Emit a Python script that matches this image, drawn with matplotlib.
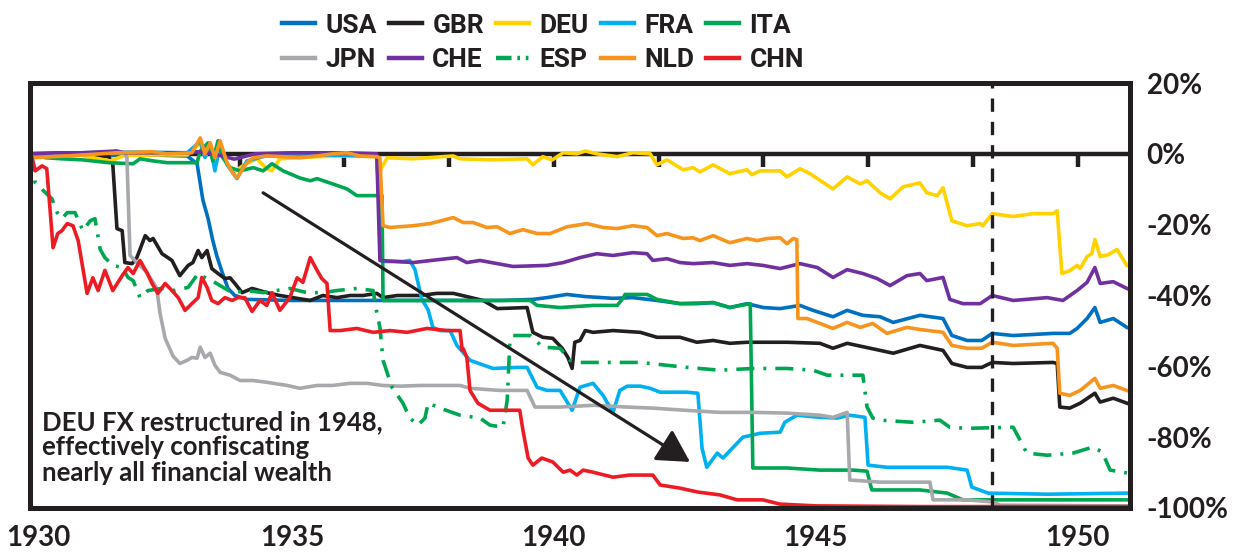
import matplotlib
matplotlib.use('Agg')
import matplotlib.pyplot as plt
from matplotlib.transforms import ScaledTranslation

# series: (year, % change)
usa_x = [1930.0, 1930.5, 1931.0, 1931.5, 1932.0, 1932.5, 1933.0, 1933.19, 1933.30, 1933.40, 1933.49, 1933.57,
         1933.67, 1933.78, 1933.91, 1934.14, 1935.0, 1936.0, 1937.0, 1938.0, 1939.0, 1939.60, 1939.87, 1940.25,
         1940.60, 1941.13, 1941.51, 1941.97, 1942.41, 1942.73, 1943.04, 1943.36, 1943.69, 1944.0, 1944.32,
         1944.70, 1944.95, 1945.33, 1945.60, 1945.90, 1946.23, 1946.48, 1946.99, 1947.43, 1947.60, 1947.89,
         1948.17, 1948.37, 1948.77, 1949.53, 1949.85, 1949.99, 1950.18, 1950.33, 1950.43, 1950.68, 1950.94]
usa_y = [0, -0.3, -0.2, -0.5, -0.3, -0.4, -0.6, -2.8, -13.0, -18.3, -24.5, -29.0,
         -33.5, -38.0, -40.0, -41.1, -41.4, -41.4, -41.4, -41.4, -41.4, -41.1, -40.6, -39.7,
         -40.3, -40.8, -40.6, -41.4, -42.3, -42.3, -42.0, -43.4, -42.3, -43.4, -43.7,
         -42.8, -44.2, -46.0, -44.2, -45.6, -46.0, -47.6, -45.6, -46.5, -51.3, -52.7,
         -52.7, -50.7, -51.3, -50.7, -50.7, -49.3, -46.5, -43.4, -47.6, -46.5, -49.0]

gbr_x = [1930.0, 1930.5, 1931.0, 1931.5, 1931.58, 1931.66, 1931.76, 1931.81, 1931.95, 1932.04, 1932.20, 1932.29,
         1932.35, 1932.52, 1932.71, 1932.86, 1933.02, 1933.11, 1933.21, 1933.28, 1933.38, 1933.47, 1933.59,
         1933.72, 1933.82, 1933.91, 1934.05, 1934.24, 1934.52, 1934.77, 1935.10, 1935.35, 1935.59, 1935.86,
         1936.11, 1936.36, 1936.62, 1936.74, 1937.01, 1937.45, 1937.77, 1938.08, 1938.65, 1938.92, 1939.49,
         1939.60, 1939.79, 1939.98, 1940.16, 1940.27, 1940.35, 1940.40, 1940.50, 1940.60, 1940.75, 1941.13,
         1941.65, 1941.97, 1942.41, 1942.73, 1943.04, 1943.36, 1943.69, 1944.07, 1944.45, 1945.08, 1945.33,
         1945.60, 1946.23, 1946.48, 1946.99, 1947.43, 1947.60, 1947.89, 1948.17, 1948.37, 1948.77, 1949.53,
         1949.61, 1949.66, 1949.85, 1950.05, 1950.33, 1950.43, 1950.68, 1950.94]
gbr_y = [0, -0.3, -0.3, -0.8, -2.8, -21.1, -21.7, -30.7, -31.0, -29.3, -23.1, -24.5,
         -23.9, -28.2, -30.1, -34.4, -31.5, -30.7, -27.3, -29.3, -27.3, -32.4, -33.8,
         -35.2, -35.0, -36.6, -39.2, -38.0, -39.2, -40.0, -40.8, -41.4, -40.0, -40.6,
         -40.0, -40.0, -39.4, -40.6, -40.0, -40.0, -39.4, -39.4, -41.4, -43.7, -43.4,
         -50.4, -51.8, -52.1, -54.9, -57.5, -60.6, -53.2, -52.7, -49.9, -50.4, -49.9,
         -50.4, -51.8, -51.8, -53.2, -52.7, -53.5, -53.2, -53.2, -53.2, -53.5, -54.9,
         -53.5, -55.5, -56.3, -54.1, -55.5, -59.2, -60.3, -60.3, -58.9, -59.2, -58.9,
         -59.2, -71.5, -71.8, -70.4, -67.6, -70.1, -69.0, -70.4]

deu_x = [1930.0, 1930.5, 1931.0, 1931.53, 1931.8, 1932.5, 1933.0, 1933.25, 1933.34, 1933.44, 1933.53, 1933.63,
         1933.76, 1933.91, 1934.10, 1934.33, 1934.52, 1934.62, 1934.77, 1935.10, 1935.5, 1936.0, 1936.62,
         1936.68, 1936.82, 1937.31, 1937.88, 1938.08, 1938.21, 1938.78, 1939.49, 1939.60, 1939.79, 1939.97,
         1940.18, 1940.44, 1940.60, 1940.82, 1941.21, 1941.51, 1941.84, 1941.97, 1942.16, 1942.47, 1942.66,
         1942.79, 1943.04, 1943.36, 1943.69, 1943.78, 1943.94, 1944.32, 1944.45, 1944.70, 1944.89, 1945.33,
         1945.60, 1945.85, 1945.98, 1946.23, 1946.42, 1946.67, 1946.99, 1947.12, 1947.32, 1947.43, 1947.60,
         1947.89, 1948.14, 1948.19, 1948.37, 1948.77, 1949.15, 1949.53, 1949.61, 1949.70, 1949.85, 1949.99,
         1950.05, 1950.18, 1950.27, 1950.33, 1950.43, 1950.58, 1950.75, 1950.94]
deu_y = [0, -0.3, -0.5, -2.0, -0.5, -0.3, -0.3, 3.0, -1.0, 2.5, -1.0, 2.0,
         -3.0, -5.0, -3.0, -1.4, -4.2, -4.8, -1.4, -1.1, -0.8, -0.6, -0.8,
         -4.8, -1.1, -1.4, -0.8, -0.6, -1.4, -1.7, -1.4, -3.1, -0.8, -1.7,
         0.3, 0.0, 0.8, 0.0, -0.8, 0.3, 0.0, -3.1, -1.7, -4.5, -3.9,
         -5.1, -3.1, -5.6, -4.5, -5.9, -4.8, -4.8, -6.5, -4.2, -5.6, -9.9,
         -6.5, -8.5, -7.6, -11.0, -12.7, -9.3, -8.2, -11.0, -11.8, -9.6, -18.9,
         -20.3, -19.7, -20.3, -16.9, -17.7, -16.9, -16.9, -16.1, -33.8, -33.0, -31.5,
         -32.4, -29.0, -28.2, -24.2, -29.0, -28.5, -27.0, -31.5]

fra_x = [1930.0, 1931.0, 1932.0, 1933.0, 1933.25, 1933.34, 1933.44, 1933.53, 1933.63, 1933.76, 1933.95, 1934.14,
         1934.5, 1935.5, 1936.62, 1936.72, 1937.12, 1937.25, 1937.35, 1937.48, 1937.60, 1937.69, 1937.83,
         1938.02, 1938.15, 1938.40, 1938.84, 1939.30, 1939.49, 1939.68, 1939.87, 1940.12, 1940.35, 1940.50,
         1940.75, 1940.94, 1941.07, 1941.13, 1941.26, 1941.40, 1941.65, 1941.84, 1942.03, 1942.54, 1942.75,
         1942.83, 1942.92, 1943.12, 1943.23, 1943.50, 1943.61, 1943.94, 1944.32, 1944.41, 1944.64, 1945.08,
         1945.41, 1945.65, 1945.94, 1946.00, 1946.36, 1946.99, 1947.51, 1947.89, 1947.98, 1948.29, 1949.42,
         1950.94]
fra_y = [0, 0.3, 0.5, 0.3, 3.5, -1.0, 2.5, -4.8, 2.5, -3.0, -7.0, -2.0,
         -0.6, -0.3, -0.6, -30.4, -30.4, -30.1, -32.7, -41.1, -44.0, -49.0, -49.9,
         -49.9, -54.1, -58.3, -60.6, -60.3, -60.3, -65.9, -66.8, -66.8, -72.4, -65.9,
         -64.8, -68.2, -71.5, -73.0, -66.8, -65.6, -65.6, -66.2, -67.3, -67.3, -67.6,
         -83.1, -88.5, -84.5, -85.9, -81.7, -80.0, -78.9, -78.6, -75.8, -73.8, -74.4,
         -74.6, -73.8, -74.4, -87.9, -88.5, -88.5, -88.5, -89.3, -94.1, -95.8, -96.1,
         -95.8]

ita_x = [1930.0, 1930.3, 1930.6, 1931.0, 1931.5, 1931.97, 1932.10, 1932.35, 1932.62, 1933.0, 1933.19, 1933.25,
         1933.40, 1933.49, 1933.59, 1933.68, 1933.82, 1934.01, 1934.26, 1934.45, 1934.62, 1934.83, 1935.15,
         1935.35, 1935.48, 1935.78, 1936.05, 1936.24, 1936.43, 1936.72, 1936.74, 1937.5, 1938.5, 1939.55,
         1939.68, 1940.12, 1940.75, 1941.21, 1941.32, 1941.36, 1941.78, 1941.97, 1942.41, 1943.04, 1943.36,
         1943.75, 1943.80, 1944.45, 1945.08, 1945.71, 1945.98, 1946.07, 1946.99, 1947.51, 1947.81, 1948.5,
         1950.94]
ita_y = [0, -1.1, -1.4, -1.7, -2.5, -2.8, -1.4, -2.0, -2.5, -2.5, -2.5, 0.8,
         3.1, -2.0, 3.7, -1.1, -3.9, -4.8, -3.9, -4.8, -2.8, -4.8, -6.8,
         -7.6, -7.0, -8.5, -9.9, -11.8, -11.8, -11.8, -41.4, -41.4, -41.4, -41.4,
         -42.8, -43.4, -42.8, -42.8, -40.8, -39.7, -39.7, -41.1, -42.3, -42.0, -43.4,
         -42.3, -88.7, -88.7, -89.3, -89.3, -89.6, -94.9, -94.9, -95.8, -97.7, -97.7,
         -97.7]

jpn_x = [1930.0, 1931.0, 1931.80, 1931.85, 1931.91, 1932.04, 1932.14, 1932.23, 1932.33, 1932.42, 1932.48, 1932.58,
         1932.73, 1932.86, 1933.00, 1933.09, 1933.19, 1933.25, 1933.34, 1933.44, 1933.53, 1933.63, 1933.82,
         1934.01, 1934.26, 1934.52, 1934.91, 1935.15, 1935.48, 1935.78, 1936.11, 1936.43, 1936.74, 1937.07,
         1937.45, 1937.96, 1938.21, 1938.40, 1938.97, 1939.49, 1939.64, 1940.12, 1940.75, 1941.40, 1941.89,
         1942.5, 1943.17, 1943.80, 1944.45, 1945.08, 1945.33, 1945.60, 1945.65, 1946.23, 1947.18, 1947.24,
         1947.89, 1948.38, 1948.52, 1950.94]
jpn_y = [0, 0.3, 0.3, -1.1, -28.7, -30.7, -32.1, -33.5, -35.8, -38.0, -44.8, -52.1,
         -57.1, -59.2, -58.3, -57.5, -57.7, -54.6, -57.5, -56.3, -59.7, -61.7, -62.5,
         -64.0, -64.0, -64.5, -65.4, -66.2, -65.4, -65.4, -64.8, -64.8, -65.4, -65.6,
         -65.4, -65.4, -65.4, -66.2, -66.8, -66.8, -71.5, -71.5, -71.0, -71.5, -71.8,
         -72.4, -73.0, -73.0, -73.2, -73.8, -74.4, -73.0, -92.1, -92.7, -92.7, -97.7,
         -97.7, -98.3, -99.2, -99.4]

che_x = [1930.0, 1930.5, 1931.0, 1931.66, 1931.8, 1932.5, 1933.0, 1933.2, 1933.5, 1933.9, 1934.3, 1935.0,
         1936.0, 1936.62, 1936.68, 1937.31, 1937.96, 1938.15, 1938.34, 1938.59, 1938.92, 1939.22, 1939.87,
         1940.18, 1940.50, 1940.82, 1941.13, 1941.51, 1941.78, 1941.89, 1942.16, 1942.41, 1942.66, 1943.04,
         1943.36, 1943.69, 1943.99, 1944.32, 1944.70, 1945.03, 1945.33, 1945.60, 1945.90, 1946.17, 1946.42,
         1946.74, 1946.99, 1947.12, 1947.43, 1947.56, 1947.81, 1948.14, 1948.37, 1948.77, 1949.42, 1949.72,
         1949.99, 1950.18, 1950.33, 1950.43, 1950.68, 1950.94]
che_y = [0, 0.3, 0.3, 0.8, 0.3, 0.3, 0.3, 0.6, 0.0, -1.5, 0.0, 0.3,
         0.3, 0.0, -30.1, -30.7, -29.6, -29.3, -30.7, -30.1, -31.0, -31.8, -31.5,
         -30.7, -29.3, -28.2, -28.7, -27.9, -28.2, -30.1, -29.6, -30.7, -31.0, -30.7,
         -31.5, -31.0, -31.5, -32.4, -31.0, -32.1, -34.9, -32.7, -33.8, -35.2, -37.2,
         -34.4, -33.8, -35.8, -34.9, -41.1, -42.3, -42.3, -40.0, -41.4, -40.6, -41.4,
         -38.6, -36.3, -32.1, -36.6, -36.1, -38.0]

esp_x = [1930.0, 1930.10, 1930.42, 1930.52, 1930.61, 1930.71, 1930.86, 1931.01, 1931.15, 1931.24, 1931.34, 1931.43,
         1931.58, 1931.76, 1931.87, 1931.97, 1932.10, 1932.25, 1932.52, 1932.77, 1933.02, 1933.21, 1933.34,
         1933.47, 1933.72, 1933.86, 1934.14, 1934.45, 1934.96, 1935.29, 1935.59, 1935.86, 1936.24, 1936.55,
         1936.62, 1936.68, 1936.74, 1936.91, 1937.12, 1937.25, 1937.41, 1937.54, 1937.60, 1937.83, 1938.21,
         1938.59, 1938.78, 1939.03, 1939.11, 1939.16, 1939.22, 1939.55, 1939.79, 1940.12, 1940.31, 1940.50,
         1941.13, 1941.65, 1942.54, 1943.17, 1943.80, 1944.45, 1944.95, 1945.22, 1945.90, 1945.98, 1946.09,
         1946.23, 1946.86, 1947.37, 1947.56, 1947.89, 1948.77, 1948.90, 1949.03, 1949.42, 1949.91, 1950.29,
         1950.47, 1950.62, 1950.94]
esp_y = [0, -8.2, -12.7, -16.6, -18.3, -16.6, -16.6, -21.7, -18.9, -18.3, -27.0, -29.3,
         -31.5, -32.1, -34.9, -35.8, -40.6, -38.6, -38.0, -38.6, -37.7, -33.8, -34.9,
         -35.8, -38.0, -39.2, -38.6, -39.2, -38.0, -39.2, -39.2, -38.6, -38.0, -38.6,
         -44.8, -49.0, -58.3, -65.9, -70.4, -74.6, -76.6, -74.6, -70.4, -71.8, -73.8,
         -74.6, -76.6, -77.2, -69.6, -53.5, -51.3, -51.3, -54.6, -54.9, -58.3, -58.9,
         -58.9, -58.9, -60.3, -61.1, -60.6, -60.6, -61.1, -62.5, -62.5, -71.5, -74.6,
         -75.2, -75.8, -75.2, -77.2, -77.5, -77.2, -80.8, -84.5, -85.1, -84.5, -82.8,
         -84.2, -89.3, -90.1]

nld_x = [1930.0, 1930.05, 1930.7, 1931.66, 1932.33, 1932.62, 1933.09, 1933.25, 1933.34, 1933.44, 1933.53, 1933.63,
         1933.76, 1933.88, 1933.95, 1934.14, 1934.26, 1934.52, 1934.83, 1935.15, 1935.48, 1935.78, 1936.05,
         1936.30, 1936.62, 1936.68, 1936.74, 1936.87, 1937.31, 1937.64, 1938.08, 1938.27, 1938.46, 1938.72,
         1938.92, 1939.16, 1939.41, 1939.68, 1939.93, 1940.25, 1940.63, 1940.94, 1941.21, 1941.51, 1941.78,
         1941.97, 1942.16, 1942.47, 1942.66, 1942.79, 1943.04, 1943.36, 1943.69, 1943.88, 1944.07, 1944.32,
         1944.45, 1944.57, 1944.64, 1944.66, 1944.83, 1945.08, 1945.33, 1945.60, 1945.85, 1946.09, 1946.36,
         1946.74, 1946.99, 1947.43, 1947.60, 1947.89, 1948.17, 1948.37, 1948.77, 1949.53, 1949.61, 1949.66,
         1949.85, 1950.05, 1950.33, 1950.43, 1950.68, 1950.94]
nld_y = [0, -1.1, -0.6, 0.3, 0.6, 0.0, 0.3, 4.5, 0.0, 3.1, -1.1, 3.7,
         -2.5, -5.6, -6.8, -2.5, -1.1, -0.6, -0.8, -1.1, -0.6, 0.0, 0.3,
         -0.6, -0.8, -1.1, -20.3, -20.8, -20.3, -19.7, -18.0, -19.4, -19.4, -20.8,
         -20.6, -22.5, -21.4, -22.5, -22.5, -20.6, -19.7, -20.8, -21.1, -20.3, -20.8,
         -23.1, -22.5, -23.9, -23.7, -24.5, -23.1, -25.1, -23.9, -24.5, -23.9, -23.7,
         -25.4, -23.9, -24.2, -46.5, -46.5, -47.9, -49.3, -47.6, -49.0, -47.9, -50.7,
         -49.0, -49.6, -50.4, -54.1, -54.9, -54.9, -53.2, -54.1, -53.5, -54.9, -67.6,
         -68.2, -66.8, -63.4, -66.2, -65.4, -66.8]

chn_x = [1930.0, 1930.04, 1930.10, 1930.23, 1930.32, 1930.38, 1930.44, 1930.53, 1930.61, 1930.71, 1930.82, 1930.92,
         1931.09, 1931.20, 1931.30, 1931.43, 1931.58, 1931.76, 1931.87, 1931.97, 1932.10, 1932.23, 1932.33,
         1932.44, 1932.58, 1932.71, 1932.83, 1932.96, 1933.09, 1933.21, 1933.28, 1933.38, 1933.47, 1933.59,
         1933.72, 1933.86, 1933.97, 1934.10, 1934.24, 1934.39, 1934.52, 1934.62, 1934.77, 1934.96, 1935.10,
         1935.21, 1935.35, 1935.48, 1935.57, 1935.67, 1935.73, 1935.92, 1936.24, 1936.55, 1936.87, 1937.20,
         1937.58, 1937.96, 1938.21, 1938.25, 1938.27, 1938.34, 1938.40, 1938.55, 1938.78, 1939.11, 1939.35,
         1939.41, 1939.51, 1939.60, 1939.77, 1939.98, 1940.18, 1940.31, 1940.44, 1940.56, 1940.75, 1941.13,
         1941.45, 1941.89, 1942.03, 1942.41, 1942.75, 1943.17, 1943.50, 1943.99, 1944.32, 1945.0, 1947.0,
         1950.94]
chn_y = [0, -1.1, -4.8, -3.4, -4.2, -15.2, -26.5, -22.5, -21.7, -19.7, -20.3, -24.5,
         -39.4, -35.0, -38.6, -32.9, -38.6, -34.4, -32.1, -33.8, -30.1, -33.5, -36.6,
         -39.4, -36.6, -38.6, -40.6, -44.2, -42.3, -40.6, -34.9, -37.7, -41.4, -42.3,
         -40.6, -41.4, -40.6, -40.6, -44.5, -41.4, -42.8, -39.2, -44.2, -40.6, -35.0,
         -36.3, -29.3, -32.9, -35.2, -36.6, -49.9, -49.9, -49.3, -50.4, -49.9, -50.4,
         -49.3, -49.9, -49.9, -55.5, -55.0, -57.5, -66.8, -70.4, -72.4, -72.4, -72.4,
         -78.0, -85.9, -87.9, -85.9, -87.0, -89.9, -89.3, -90.7, -89.3, -89.9, -91.3,
         -90.7, -90.7, -93.5, -94.4, -95.5, -96.3, -97.7, -97.7, -98.9, -99.4, -99.6,
         -99.6]

series = [
    ('USA', usa_x, usa_y, '#0070C0', '-'),
    ('GBR', gbr_x, gbr_y, '#231F20', '-'),
    ('DEU', deu_x, deu_y, '#FFD200', '-'),
    ('FRA', fra_x, fra_y, '#00B0F0', '-'),
    ('ITA', ita_x, ita_y, '#00A651', '-'),
    ('JPN', jpn_x, jpn_y, '#A7A9AC', '-'),
    ('CHE', che_x, che_y, '#7030A0', '-'),
    ('ESP', esp_x, esp_y, '#00A651', (0, (5, 2.5, 0.8, 2.5))),
    ('NLD', nld_x, nld_y, '#F7941D', '-'),
    ('CHN', chn_x, chn_y, '#ED1C24', '-'),
]

x_ticks = [1930, 1935, 1940, 1945, 1950]
y_ticks = [20, 0, -20, -40, -60, -80, -100]
y_labels = ['20%', '0%', '-20%', '-40%', '-60%', '-80%', '-100%']
reform_year = 1948.37
note = 'DEU FX restructured in 1948,\neffectively confiscating\nnearly all financial wealth'

plt.rcParams['font.family'] = ['Lato', 'DejaVu Sans']
ink = '#231F20'

fig = plt.figure(figsize=(12.36, 5.52), dpi=100)
ax = fig.add_axes([30/1236, 1 - 508/552, 1100/1236, 425/552])

handles = []
for i, (name, xs, ys, col, ls) in enumerate(series):
    line, = ax.plot(xs, ys, color=col, lw=2.6, ls=ls, label=name, zorder=3 + i * 0.1,
                    solid_joinstyle='round')
    handles.append(line)

# zero line with its little tick marks
ax.axhline(0, color=ink, lw=3.2, zorder=2)
ax.vlines(range(1934, 1951, 2), -3.6, 0, color=ink, lw=3.2, zorder=2)
ax.axvline(reform_year, color=ink, lw=2.4, ls=(0, (4, 3)), zorder=5)

ax.set_xlim(1930, 1951)
ax.set_ylim(-100, 20)
for s in ax.spines.values():
    s.set_linewidth(3.6)
    s.set_color(ink)
    s.set_zorder(6)

ax.set_xticks(x_ticks)
ax.set_xticklabels([str(t) for t in x_ticks])
ax.yaxis.tick_right()
ax.set_yticks(y_ticks)
ax.set_yticklabels(y_labels)
ax.tick_params(axis='x', length=0, pad=12, labelsize=20)
ax.tick_params(axis='y', length=0, pad=12, labelsize=20)
for lab in ax.get_xticklabels() + ax.get_yticklabels():
    lab.set_fontweight('bold')
    lab.set_color(ink)
first = ax.get_xticklabels()[0]
first.set_transform(first.get_transform() + ScaledTranslation(0.08, 0, fig.dpi_scale_trans))

ax.text(1930.23, -72.3, note, ha='left', va='top', fontsize=18.5, fontweight='bold',
        color=ink, linespacing=1.08, zorder=7)
ax.annotate('', xy=(1942.6, -87), xytext=(1934.45, -11),
            arrowprops=dict(arrowstyle='-|>,head_length=0.9,head_width=0.5', color=ink, lw=2.3,
                            mutation_scale=22, shrinkA=0, shrinkB=0), zorder=7)

# legend fills column by column, so interleave the two rows
order = [0, 5, 1, 6, 2, 7, 3, 8, 4, 9]
leg_font = {'family': ['Roboto', 'DejaVu Sans'], 'weight': 'bold', 'size': 19}
leg = fig.legend(handles=[handles[k] for k in order], ncol=5, loc='upper center',
                 bbox_to_anchor=(543/1236, 0.985), frameon=False, prop=leg_font,
                 handlelength=1.25, handletextpad=0.4, columnspacing=0.45,
                 labelspacing=0.4, borderpad=0.2, borderaxespad=0)
for h in leg.get_lines():
    h.set_linewidth(3.2)
    if h.get_label() == 'ESP':
        h.set_dashes([3.5, 1.3, 0.6, 1.3, 0.6, 1.3])
for t in leg.get_texts():
    t.set_color(ink)

fig.savefig('out.png', dpi=100)
